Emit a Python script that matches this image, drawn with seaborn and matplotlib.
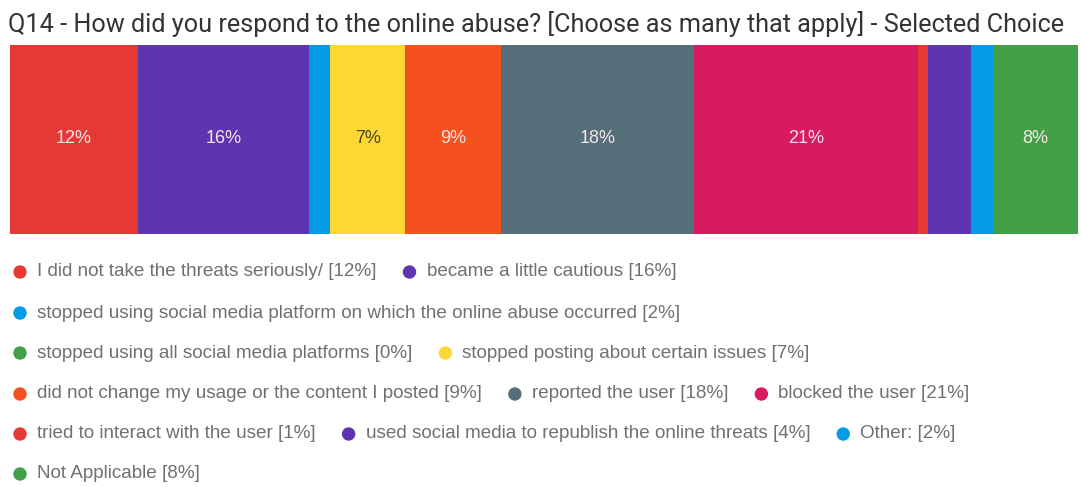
import matplotlib
matplotlib.use("Agg")
import matplotlib.pyplot as plt
import pandas as pd
import seaborn as sns

title = "Q14 - How did you respond to the online abuse? [Choose as many that apply] - Selected Choice"

responses = [
    "I did not take the threats seriously/",
    "became a little cautious",
    "stopped using social media platform on which the online abuse occurred",
    "stopped using all social media platforms",
    "stopped posting about certain issues",
    "did not change my usage or the content I posted",
    "reported the user",
    "blocked the user",
    "tried to interact with the user",
    "used social media to republish the online threats",
    "Other:",
    "Not Applicable",
]
shares = [12, 16, 2, 0, 7, 9, 18, 21, 1, 4, 2, 8]
colors = ["#E53935", "#5E35B1", "#039BE5", "#43A047", "#FDD835", "#F4511E",
          "#546E7A", "#D81B60", "#E53935", "#5E35B1", "#039BE5", "#43A047"]
# legend items grouped per line
legend_rows = [[0, 1], [2], [3, 4], [5, 6, 7], [8, 9, 10], [11]]

W, H = 1084, 487
sns.set_theme(style="white")
plt.rcParams["font.family"] = ["Liberation Sans", "DejaVu Sans"]
fig = plt.figure(figsize=(W / 100, H / 100), dpi=100)

ax = fig.add_axes([10 / W, (H - 234) / H, 1068 / W, 189 / H])
df = pd.DataFrame({"response": responses, "share": shares, "color": colors})
df["end"] = df["share"].cumsum()

# stacked bar: draw cumulative bars from the longest back to the shortest
for i in range(len(df) - 1, -1, -1):
    sns.barplot(x=[df["end"][i]], y=[0], orient="h", color=df["color"][i],
                width=1.0, saturation=1, ax=ax, linewidth=0)

for i, row in df.iterrows():
    if row["share"] >= 5:
        mid = row["end"] - row["share"] / 2
        tc = "#4a4522" if row["color"] == "#FDD835" else "#F6E6E6"
        ax.text(mid, -0.005, f"{row['share']}%", ha="center", va="center",
                fontsize=13, color=tc)

ax.set_xlim(0, 100)
ax.set_ylim(0.5, -0.5)
ax.axis("off")

fig.text(8 / W, 1 - 24 / H, title, fontsize=18.2, color="#333333",
         family="Roboto", va="center", ha="left")

# legend lines
renderer = fig.canvas.get_renderer()
row_y = [272, 313, 353, 394, 434, 474]
for r, items in enumerate(legend_rows):
    x = 20
    y = row_y[r]
    for k in items:
        fig.patches.append(plt.Circle((x, H - y), 6, color=colors[k],
                                      transform=None, figure=fig))
        t = fig.text((x + 17) / W, 1 - y / H, f"{responses[k]} [{shares[k]}%]",
                     fontsize=13.6, color="#707070", va="center", ha="left")
        bb = t.get_window_extent(renderer)
        x = bb.x1 + 33

fig.savefig("out.png", dpi=100, facecolor="white")
